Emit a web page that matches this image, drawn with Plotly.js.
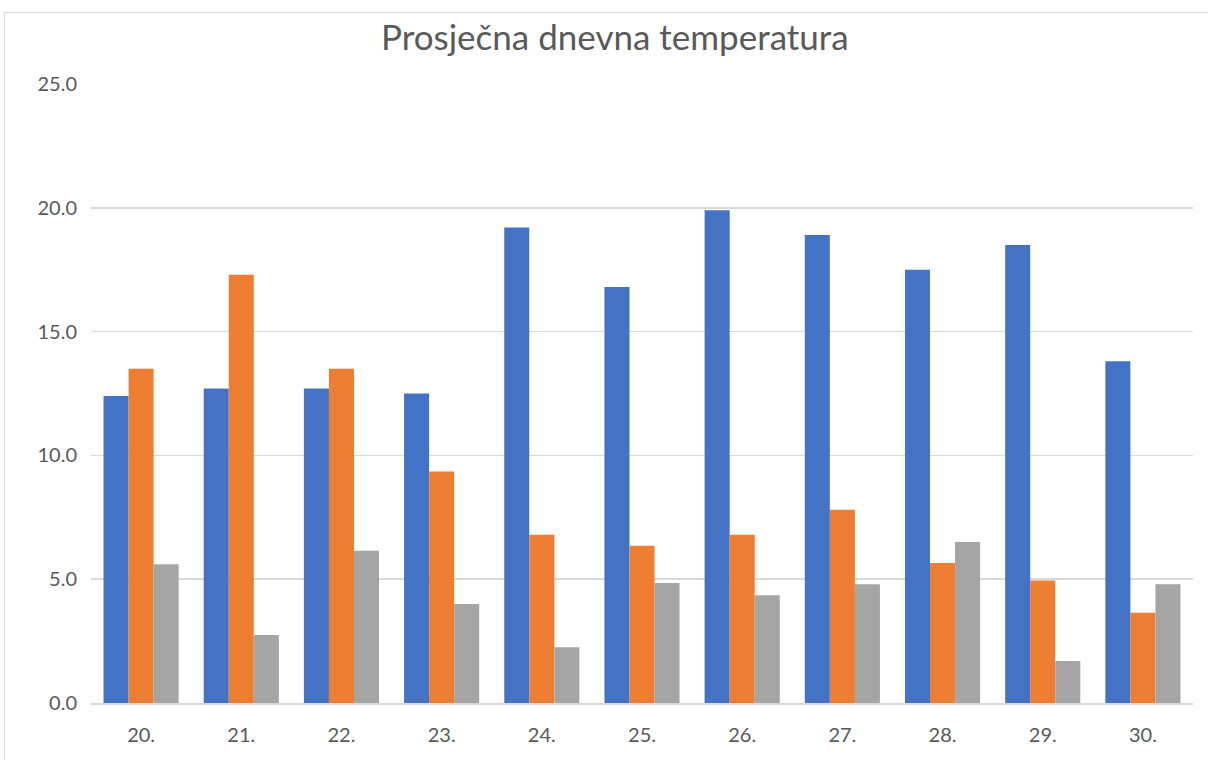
<!DOCTYPE html>
<html>
<head>
<meta charset="utf-8">
<script src="https://cdn.plot.ly/plotly-3.0.1.min.js"></script>
<style>
  html, body { margin: 0; padding: 0; background: #ffffff; overflow: hidden; }
  #frame { position: absolute; left: 4px; top: 12px; width: 1400px; height: 900px; border: 1px solid #d9d9d9; box-sizing: border-box; }
  #chart { position: absolute; left: 0; top: 0; width: 1208px; height: 760px; }
</style>
</head>
<body>
<div id="frame"></div>
<div id="chart"></div>
<script>
const categories = ["20.", "21.", "22.", "23.", "24.", "25.", "26.", "27.", "28.", "29.", "30."];
const series1 = [12.4, 12.7, 12.7, 12.5, 19.2, 16.8, 19.9, 18.9, 17.5, 18.5, 13.8];
const series2 = [13.5, 17.3, 13.5, 9.35, 6.8, 6.35, 6.8, 7.8, 5.65, 4.95, 3.65];
const series3 = [5.6, 2.75, 6.15, 4.0, 2.25, 4.85, 4.35, 4.8, 6.5, 1.7, 4.8];
const seriesNames = ["Niz 1", "Niz 2", "Niz 3"];
const colors = ["#4472C4", "#ED7D31", "#A5A5A5"];

const traces = [series1, series2, series3].map((vals, i) => ({
  type: "bar",
  name: seriesNames[i],
  x: categories,
  y: vals,
  marker: { color: colors[i], line: { width: 0 } },
  hoverinfo: "x+y+name"
}));

const layout = {
  width: 1208,
  height: 760,
  paper_bgcolor: "rgba(0,0,0,0)",
  plot_bgcolor: "rgba(0,0,0,0)",
  margin: { l: 91, r: 15, t: 84, b: 57 },
  showlegend: false,
  barmode: "group",
  bargap: 0.25,
  bargroupgap: 0,
  title: {
    text: "Prosječna dnevna temperatura",
    x: 0.509,
    xanchor: "center",
    y: 0.95,
    yanchor: "middle",
    font: { family: "Lato, 'Open Sans', sans-serif", size: 35, color: "#595959" }
  },
  font: { family: "Lato, 'Open Sans', sans-serif", size: 20, color: "#595959" },
  xaxis: {
    type: "category",
    showgrid: false,
    showline: true,
    linecolor: "#d9d9d9",
    linewidth: 1.5,
    ticks: "",
    ticklabelstandoff: 13,
    tickfont: { size: 20, color: "#595959" },
    zeroline: false,
    fixedrange: true
  },
  yaxis: {
    range: [0, 25],
    dtick: 5,
    tick0: 0,
    tickformat: ".1f",
    showgrid: true,
    gridcolor: "#d9d9d9",
    gridwidth: 1.5,
    zeroline: false,
    showline: false,
    ticks: "",
    ticklabelstandoff: 13,
    tickfont: { size: 20, color: "#595959" },
    fixedrange: true
  }
};

Plotly.newPlot("chart", traces, layout, { displayModeBar: false, staticPlot: true });
</script>
</body>
</html>
